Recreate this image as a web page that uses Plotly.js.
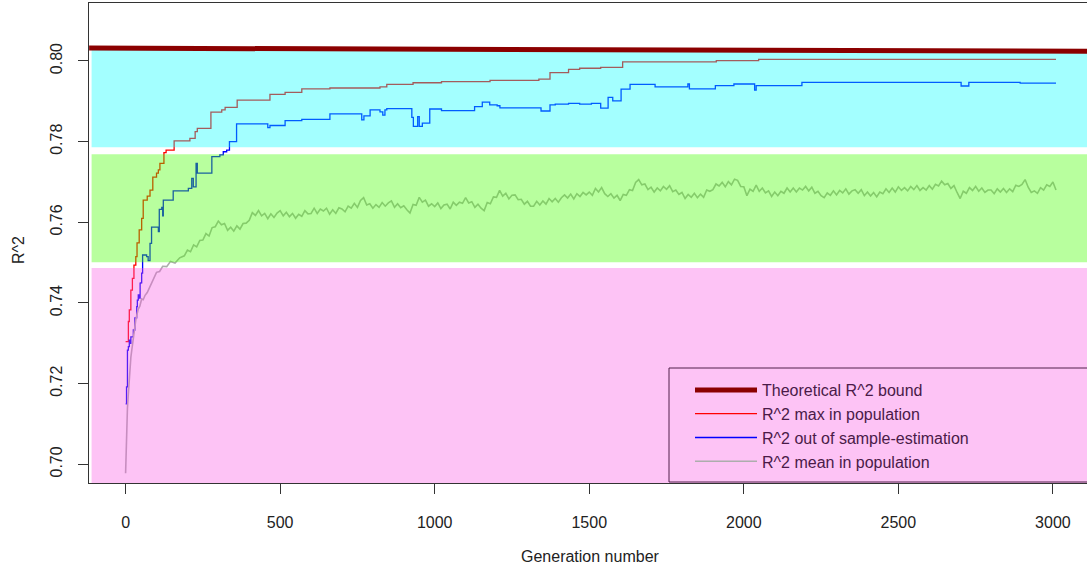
<!DOCTYPE html>
<html>
<head>
<meta charset="utf-8">
<script src="https://cdn.plot.ly/plotly-3.0.1.min.js"></script>
<style>
html,body{margin:0;padding:0;overflow:hidden;background:#fff;}
#chart{width:1100px;height:572px;}
</style>
</head>
<body>
<div id="chart"></div>
<script>
// ---- data ----
const seriesNames = ["Theoretical R^2 bound", "R^2 max in population", "R^2 out of sample-estimation", "R^2 mean in population"];

const boundGen = [-118, 3130];
const boundR2  = [0.8032, 0.8024];

const maxGen = [0,9,12,17,22,27,33,37,44,52,57,70,79,88,100,106,111,124,131,157,208,225,232,276,311,322,361,467,516,570,661,823,845,930,1022,1179,1337,1373,1433,1469,1537,1608,1911,2048,3010];
const maxR2  = [0.7304,0.7354,0.7383,0.7432,0.7461,0.7494,0.7515,0.7549,0.7581,0.7610,0.7655,0.7665,0.7680,0.7712,0.7722,0.7730,0.7746,0.7773,0.7779,0.7802,0.7808,0.7825,0.7833,0.7873,0.7879,0.7885,0.7903,0.7917,0.7922,0.7931,0.7933,0.7936,0.7942,0.7946,0.7949,0.7952,0.7955,0.7971,0.7979,0.7982,0.7984,0.7998,0.8001,0.8004,0.8004];

const oosGen = [0,3,6,9,12,15,17,25,30,36,38,41,44,47,49,52,55,68,73,79,84,106,109,117,120,122,154,203,214,219,228,232,279,305,316,327,336,359,460,467,516,570,661,764,771,791,823,832,839,845,926,931,945,950,960,984,1022,1129,1154,1178,1202,1211,1344,1373,1390,1433,1469,1507,1537,1561,1576,1603,1632,1713,1819,1824,1908,1968,2035,2040,2188,2703,2728,2894,3010];
const oosR2  = [0.7150,0.7192,0.7283,0.7292,0.7308,0.7300,0.7316,0.7333,0.7363,0.7391,0.7407,0.7420,0.7412,0.7449,0.7450,0.7474,0.7519,0.7515,0.7505,0.7548,0.7588,0.7577,0.7632,0.7637,0.7616,0.7655,0.7678,0.7684,0.7709,0.7688,0.7746,0.7722,0.7763,0.7767,0.7775,0.7779,0.7800,0.7844,0.7835,0.7840,0.7852,0.7855,0.7869,0.7854,0.7864,0.7879,0.7874,0.7866,0.7879,0.7882,0.7860,0.7838,0.7862,0.7838,0.7846,0.7881,0.7877,0.7887,0.7898,0.7891,0.7889,0.7884,0.7876,0.7891,0.7893,0.7895,0.7893,0.7895,0.7883,0.7910,0.7901,0.7930,0.7942,0.7936,0.7943,0.7931,0.7939,0.7943,0.7928,0.7939,0.7947,0.7938,0.7947,0.7945,0.7945];

// mean in population: early generations listed explicitly, then every 10 generations from 200
const meanEarlyGen = [0,3,6,9,12,14,17,20,25,30,33,37,41,46,52,57,63,70,79,90,100,110,120,133,145,160,175,190];
const meanEarlyR2  = [0.6978,0.7085,0.7140,0.7176,0.7215,0.7242,0.7265,0.7283,0.7316,0.7342,0.7358,0.7372,0.7385,0.7392,0.7410,0.7408,0.7419,0.7426,0.7442,0.7458,0.7476,0.7478,0.7491,0.7490,0.7503,0.7499,0.7512,0.7517];
const meanLateStart = 200, meanLateStep = 10;
const meanLateR2 = [
0.7531,0.7527,0.7544,0.7539,0.7555,0.7556,0.7572,0.7566,0.7587,0.7589,
0.7603,0.7594,0.7597,0.7580,0.7588,0.7578,0.7591,0.7583,0.7597,0.7598,
0.7605,0.7624,0.7617,0.7629,0.7616,0.7622,0.7609,0.7621,0.7612,0.7623,
0.7629,0.7616,0.7625,0.7614,0.7622,0.7610,0.7620,0.7615,0.7629,0.7621,
0.7622,0.7635,0.7622,0.7633,0.7628,0.7635,0.7620,0.7631,0.7622,0.7636,
0.7633,0.7626,0.7640,0.7635,0.7647,0.7637,0.7654,0.7661,0.7643,0.7646,
0.7635,0.7644,0.7637,0.7649,0.7640,0.7648,0.7653,0.7637,0.7646,0.7636,
0.7641,0.7631,0.7623,0.7644,0.7642,0.7662,0.7650,0.7655,0.7640,0.7646,
0.7639,0.7648,0.7634,0.7643,0.7645,0.7633,0.7650,0.7642,0.7650,0.7647,
0.7661,0.7648,0.7651,0.7637,0.7645,0.7635,0.7629,0.7649,0.7646,0.7663,
0.7662,0.7679,0.7665,0.7672,0.7658,0.7667,0.7668,0.7656,0.7657,0.7645,
0.7652,0.7640,0.7640,0.7652,0.7643,0.7653,0.7645,0.7659,0.7651,0.7659,
0.7650,0.7661,0.7668,0.7660,0.7670,0.7658,0.7671,0.7664,0.7674,0.7668,
0.7675,0.7667,0.7684,0.7675,0.7686,0.7671,0.7664,0.7671,0.7660,0.7667,
0.7654,0.7669,0.7667,0.7681,0.7679,0.7699,0.7706,0.7693,0.7695,0.7681,
0.7687,0.7675,0.7685,0.7678,0.7689,0.7682,0.7691,0.7676,0.7680,0.7669,
0.7674,0.7659,0.7669,0.7662,0.7672,0.7661,0.7670,0.7662,0.7680,0.7677,
0.7681,0.7695,0.7690,0.7699,0.7688,0.7701,0.7693,0.7707,0.7704,0.7689,
0.7688,0.7666,0.7682,0.7677,0.7692,0.7677,0.7685,0.7673,0.7678,0.7664,
0.7675,0.7666,0.7677,0.7672,0.7685,0.7675,0.7685,0.7675,0.7685,0.7680,
0.7689,0.7678,0.7687,0.7672,0.7677,0.7666,0.7661,0.7673,0.7667,0.7678,
0.7668,0.7679,0.7673,0.7683,0.7670,0.7678,0.7681,0.7672,0.7681,0.7666,
0.7675,0.7665,0.7674,0.7663,0.7675,0.7671,0.7683,0.7674,0.7685,0.7675,
0.7688,0.7679,0.7686,0.7678,0.7689,0.7681,0.7691,0.7679,0.7686,0.7680,
0.7691,0.7682,0.7694,0.7690,0.7702,0.7693,0.7696,0.7684,0.7691,0.7674,
0.7659,0.7677,0.7672,0.7686,0.7679,0.7689,0.7677,0.7685,0.7674,0.7680,
0.7680,0.7671,0.7683,0.7675,0.7684,0.7674,0.7683,0.7676,0.7692,0.7689,
0.7694,0.7706,0.7687,0.7674,0.7678,0.7672,0.7686,0.7680,0.7693,0.7689,
0.7700,0.7680];

// background bands [low, high]
const bandLow  = [0.6900, 0.7501, 0.7786];
const bandHigh = [0.7487, 0.7769, 0.8028];
const bandLeftGen = -110, bandRightGen = 3400;

const xTicks = [0,500,1000,1500,2000,2500,3000];
const yTicks = [0.70,0.72,0.74,0.76,0.78,0.80];

// ---- build ----
const meanGen = meanEarlyGen.concat(meanLateR2.map((v,i)=>meanLateStart+i*meanLateStep));
const meanR2 = meanEarlyR2.concat(meanLateR2);

const FONT = '"Liberation Sans", Arial, sans-serif';
const W = 1100, H = 572, L = 89, R = 7, T = 3, B = 89;
const pw = W - L - R, ph = H - T - B;
const px2paperX = p => (p - L) / pw;
const px2paperY = p => (H - B - p) / ph;

const traces = [
  {x:[null], y:[null], mode:'lines', name:seriesNames[0], line:{color:'#8B0000', width:5}, hoverinfo:'skip'},
  {x:maxGen, y:maxR2, mode:'lines', line:{color:'#FF0000', width:1.3, shape:'hv'}, name:seriesNames[1]},
  {x:oosGen, y:oosR2, mode:'lines', line:{color:'#0000FF', width:1.3, shape:'hv'}, name:seriesNames[2]},
  {x:meanGen, y:meanR2, mode:'lines', line:{color:'#ADADAD', width:1.6}, name:seriesNames[3]}
];

const bandColors = ['rgba(249,84,226,0.35)', 'rgba(68,255,0,0.38)', 'rgba(0,255,255,0.36)'];
const shapes = bandLow.map((lo,i)=>({
  type:'rect', xref:'x', yref:'y', x0:bandLeftGen, x1:bandRightGen, y0:lo, y1:bandHigh[i],
  fillcolor:bandColors[i], line:{width:0}, layer:'above'
}));
shapes.push({type:'line', xref:'x', yref:'y', x0:boundGen[0], x1:boundGen[1], y0:boundR2[0], y1:boundR2[1],
  line:{color:'#8B0000', width:5}, layer:'above'});
// legend frame
shapes.push({type:'rect', xref:'paper', yref:'paper', x0:px2paperX(669), x1:px2paperX(1200), y0:px2paperY(482), y1:px2paperY(368),
  line:{color:'#50204a', width:1}, fillcolor:'rgba(0,0,0,0)', layer:'above'});

const layout = {
  width:W, height:H,
  margin:{l:L, r:R, t:T, b:B, pad:0},
  paper_bgcolor:'#ffffff', plot_bgcolor:'#ffffff',
  font:{family:FONT, size:16, color:'#222'},
  showlegend:true,
  legend:{x:px2paperX(690), y:px2paperY(373), xanchor:'left', yanchor:'top',
    bgcolor:'rgba(0,0,0,0)', borderwidth:0, font:{family:FONT, size:16, color:'#4a1a48'},
    itemwidth:62, tracegroupgap:0},
  xaxis:{range:[-118.4, 3129.7], tickvals:xTicks, ticktext:xTicks.map(String), ticks:'outside', ticklen:10, tickcolor:'#333',
    showgrid:false, zeroline:false, showline:true, linecolor:'#333', linewidth:1, mirror:true,
    tickfont:{family:FONT, size:16, color:'#222'}, ticklabelstandoff:15},
  yaxis:{range:[0.69536, 0.81438], tickvals:yTicks, ticktext:yTicks.map(v=>v.toFixed(2)), ticks:'outside', ticklen:10, tickcolor:'#333',
    tickangle:-90, showgrid:false, zeroline:false, showline:true, linecolor:'#333', linewidth:1, mirror:true,
    tickfont:{family:FONT, size:16, color:'#222'}, ticklabelstandoff:10},
  shapes:shapes,
  annotations:[
    {text:'Generation number', xref:'paper', yref:'paper', x:px2paperX(590), y:px2paperY(556), xanchor:'center', yanchor:'middle', showarrow:false, font:{family:FONT, size:16, color:'#222'}},
    {text:'R^2', xref:'paper', yref:'paper', x:px2paperX(18), y:px2paperY(250), xanchor:'center', yanchor:'middle', textangle:-90, showarrow:false, font:{family:FONT, size:16, color:'#222'}}
  ]
};

Plotly.newPlot('chart', traces, layout, {displayModeBar:false, staticPlot:true});
</script>
</body>
</html>
